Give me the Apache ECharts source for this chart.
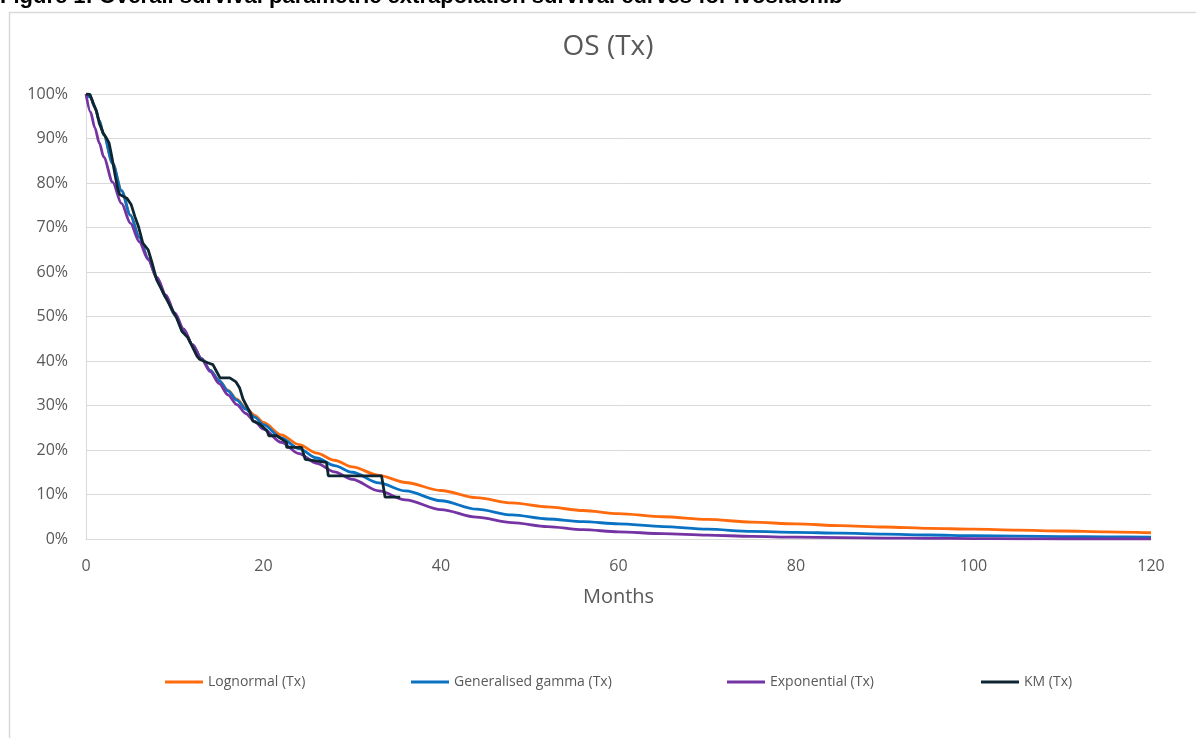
<!DOCTYPE html>
<html>
<head>
<meta charset="utf-8">
<script src="https://cdn.jsdelivr.net/npm/echarts@6/dist/echarts.min.js"></script>
<style>
html,body{margin:0;padding:0;background:#fff;}
#chart{width:1196px;height:738px;}
</style>
</head>
<body>
<div id="chart"></div>
<script>
// ---- data ----
const captionText = 'Figure 1: Overall survival parametric extrapolation survival curves for Ivosidenib';
const chartTitle = 'OS (Tx)';
const xAxisName = 'Months';
const seriesNames = ['Lognormal (Tx)', 'Generalised gamma (Tx)', 'Exponential (Tx)', 'KM (Tx)'];

const fitMonths   = [0, 0.5, 1, 1.5, 2, 3, 4, 5, 6, 7, 8, 9, 10, 11, 12, 13, 14, 15, 16, 17, 18, 19, 20, 22, 24, 26, 28, 30, 33, 36, 40, 44, 48, 52, 56, 60, 65, 70, 75, 80, 85, 90, 95, 100, 105, 110, 115, 120];
const lognormal   = [100, 99.3, 97.0, 94.0, 90.8, 84.4, 78.3, 72.8, 67.8, 63.0, 58.5, 54.3, 50.4, 46.9, 43.6, 40.6, 37.9, 35.6, 33.4, 31.4, 29.5, 27.8, 26.2, 23.4, 21.2, 19.3, 17.7, 16.2, 14.3, 12.7, 10.9, 9.3, 8.1, 7.2, 6.4, 5.7, 5.0, 4.4, 3.8, 3.4, 3.0, 2.7, 2.4, 2.2, 2.0, 1.8, 1.6, 1.4];
const ggamma      = [100, 99.3, 97.0, 94.0, 90.8, 84.4, 78.3, 72.8, 67.8, 63.0, 58.5, 54.3, 50.4, 46.9, 43.6, 40.6, 37.9, 35.6, 33.3, 31.2, 29.2, 27.4, 25.7, 22.7, 20.3, 18.2, 16.5, 15.0, 12.6, 10.8, 8.6, 6.7, 5.4, 4.5, 3.9, 3.4, 2.8, 2.2, 1.7, 1.5, 1.3, 1.1, 0.9, 0.75, 0.65, 0.55, 0.5, 0.4];
const exponential = [100, 96.0, 92.4, 89.0, 85.8, 80.2, 75.4, 71.0, 66.8, 62.8, 58.8, 54.8, 50.8, 47.2, 43.7, 40.5, 37.6, 34.9, 32.4, 30.2, 28.2, 26.4, 24.7, 21.7, 19.2, 17.0, 15.1, 13.4, 10.8, 8.8, 6.6, 4.9, 3.7, 2.8, 2.1, 1.6, 1.2, 0.85, 0.6, 0.4, 0.3, 0.2, 0.15, 0.1, 0.05, 0, 0, 0];

const kmMonths = [0, 0.45, 0.82, 1.2, 1.5, 1.95, 2.3, 2.6, 2.9, 3.3, 3.6, 3.8, 4.6, 5.1, 5.5, 5.9, 6.4, 7.0, 7.4, 7.95, 8.9, 9.5, 10.2, 10.8, 11.5, 12.5, 12.8, 13.7, 14.3, 14.7, 15.1, 16.2, 16.9, 17.3, 17.7, 18.5, 18.8, 19.6, 20.4, 20.6, 21.5, 22.1, 22.6, 22.6, 24.3, 24.7, 27.1, 27.3, 33.3, 33.7, 35.4];
const kmSurv   = [100, 99.9, 97.9, 96.0, 93.4, 91.2, 90.1, 89.0, 86.0, 81.5, 78.5, 77.4, 76.6, 75.1, 72.5, 70.3, 66.5, 65.0, 62.4, 58.3, 54.6, 52.3, 49.7, 46.7, 45.2, 41.1, 40.4, 39.6, 39.2, 37.7, 36.2, 36.2, 35.3, 34.0, 31.4, 28.4, 26.5, 25.8, 24.3, 23.2, 23.2, 22.4, 21.7, 20.6, 20.6, 17.9, 17.2, 14.2, 14.2, 9.4, 9.4];

const xTicks = {min: 0, max: 120, interval: 20};
const yTicks = {min: 0, max: 100, interval: 10};

// ---- chart ----
const colors = ['#FF6A0D', '#0A72C2', '#7434A3', '#0E2631'];
const pair = (xs, ys) => xs.map((x, i) => [x, ys[i]]);
const txt = '#595959';
const fam = '"Open Sans", "Noto Sans", sans-serif';

const chart = echarts.init(document.getElementById('chart'), null, {renderer: 'canvas'});
const legendLefts = [165, 411, 727, 981];

const option = {
  animation: false,
  backgroundColor: '#ffffff',
  color: colors,
  graphic: [
    {type: 'rect', shape: {x: 9.5, y: 12.5, width: 1400, height: 900},
     style: {fill: 'none', stroke: '#d9d9d9', lineWidth: 1.5}, silent: true},
    {type: 'text', x: 0, y: -3,
     style: {text: captionText, font: 'bold 22px "Liberation Sans", Arial, sans-serif', fill: '#000', verticalAlign: 'middle', align: 'left'}},
    {type: 'text', x: 608, y: 47,
     style: {text: chartTitle, font: '28px "Open Sans", "Noto Sans", sans-serif', fill: txt, verticalAlign: 'middle', align: 'center'}}
  ],
  legend: seriesNames.map((n, i) => ({
    data: [n], left: legendLefts[i], top: 675, padding: 0,
    icon: 'rect', itemWidth: 38, itemHeight: 3,
    textStyle: {fontFamily: fam, fontSize: 14, color: txt}
  })),
  grid: {left: 86, right: 45, top: 94, bottom: 199, containLabel: false},
  xAxis: {
    type: 'value', min: xTicks.min, max: xTicks.max, interval: xTicks.interval,
    name: xAxisName, nameLocation: 'middle', nameGap: 48,
    nameTextStyle: {fontFamily: fam, fontSize: 20, color: txt},
    axisLine: {show: true, lineStyle: {color: '#d9d9d9', width: 1}},
    axisTick: {show: false},
    splitLine: {show: false},
    axisLabel: {fontFamily: fam, fontSize: 16, color: txt, margin: 19}
  },
  yAxis: {
    type: 'value', min: yTicks.min, max: yTicks.max, interval: yTicks.interval,
    axisLine: {show: true, lineStyle: {color: '#d9d9d9', width: 1}},
    axisTick: {show: false},
    splitLine: {show: true, lineStyle: {color: '#d9d9d9', width: 1}},
    axisLabel: {fontFamily: fam, fontSize: 16, color: txt, margin: 18, formatter: '{value}%'}
  },
  series: [
    {name: seriesNames[0], type: 'line', data: pair(fitMonths, lognormal), showSymbol: false, smooth: 0.3, smoothMonotone: 'x', lineStyle: {width: 2.8}},
    {name: seriesNames[1], type: 'line', data: pair(fitMonths, ggamma), showSymbol: false, smooth: 0.3, smoothMonotone: 'x', lineStyle: {width: 2.8}},
    {name: seriesNames[2], type: 'line', data: pair(fitMonths, exponential), showSymbol: false, smooth: 0.3, smoothMonotone: 'x', lineStyle: {width: 2.8}},
    {name: seriesNames[3], type: 'line', data: pair(kmMonths, kmSurv), showSymbol: false, smooth: false, lineStyle: {width: 2.8}}
  ]
};
chart.setOption(option);
</script>
</body>
</html>
